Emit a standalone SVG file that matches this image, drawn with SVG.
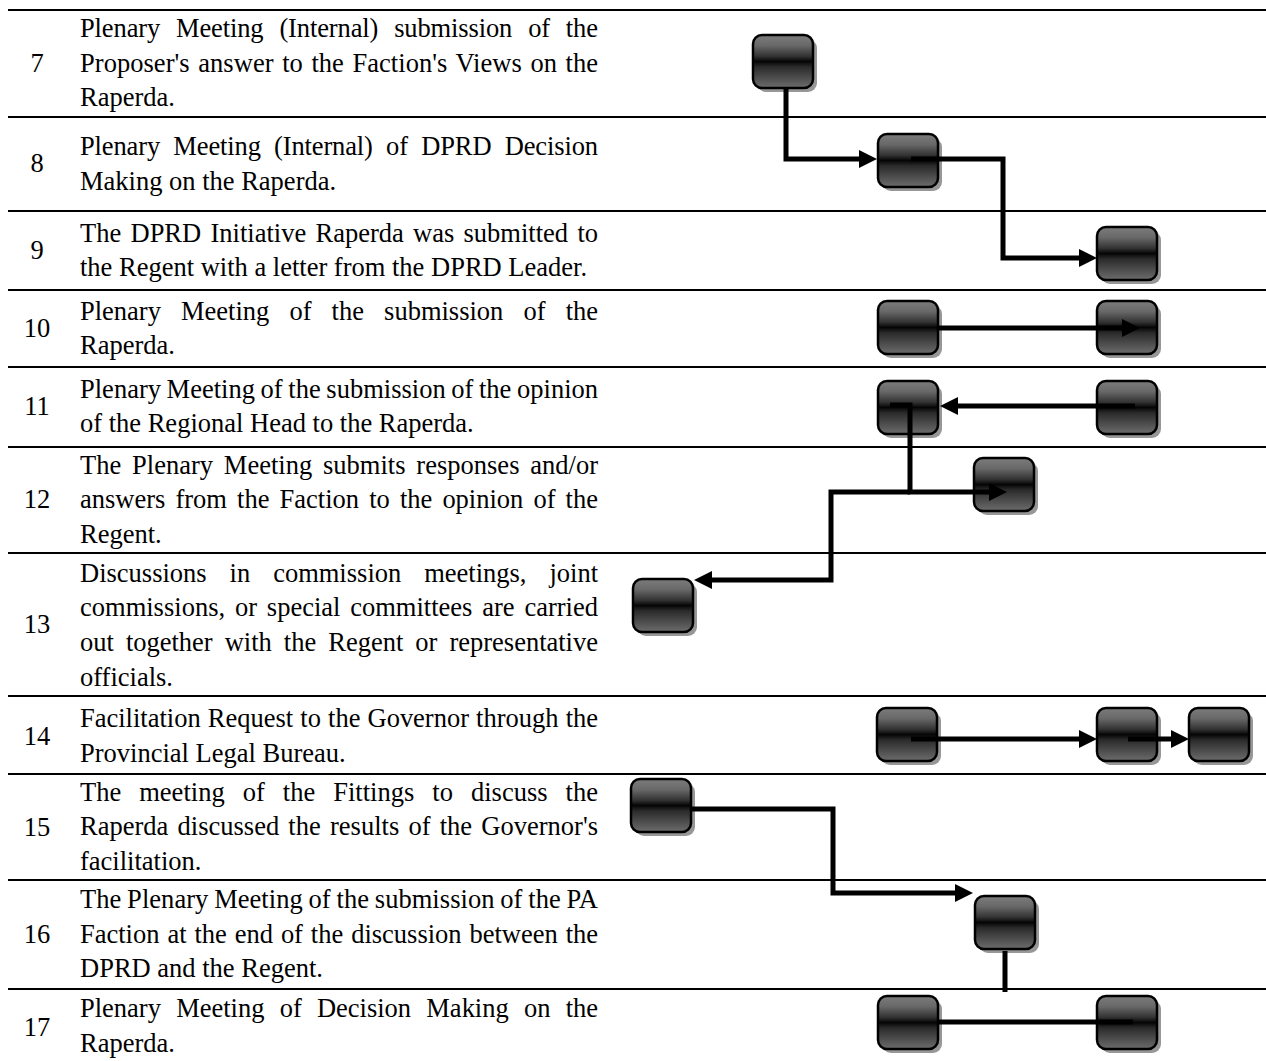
<svg xmlns="http://www.w3.org/2000/svg" width="1266" height="1061" viewBox="0 0 1266 1061">
<defs>
<style>
.t{font-family:"Liberation Serif","Times New Roman",serif;font-size:26.5px;fill:#000}
.n{font-family:"Liberation Serif","Times New Roman",serif;font-size:26.5px;fill:#000;text-anchor:middle}
.rule{stroke:#000;stroke-width:2;fill:none}
.sh{fill:#858585;opacity:.85}
.bx{fill:url(#g);stroke:#000;stroke-width:2.5}
.c{fill:none;stroke:#000;stroke-width:5;stroke-linejoin:miter}
.a{marker-end:url(#ah)}
</style>
<linearGradient id="g" x1="0" y1="0" x2="0" y2="1">
<stop offset="0" stop-color="#7c7c7c"/>
<stop offset="0.2" stop-color="#686868"/>
<stop offset="0.4" stop-color="#333333"/>
<stop offset="0.5" stop-color="#050505"/>
<stop offset="0.6" stop-color="#2a2a2a"/>
<stop offset="0.8" stop-color="#4c4c4c"/>
<stop offset="1" stop-color="#6c6c6c"/>
</linearGradient>
<marker id="ah" markerUnits="userSpaceOnUse" markerWidth="18" markerHeight="18" viewBox="0 0 18 18" refX="6" refY="9" orient="auto">
<path d="M0,0 L18,9 L0,18 Z" fill="#000"/>
</marker>
</defs>
<rect width="1266" height="1061" fill="#fff"/>

<g id="rules">
<line class="rule" x1="8" y1="10" x2="1266" y2="10"/>
<line class="rule" x1="8" y1="117" x2="1266" y2="117"/>
<line class="rule" x1="8" y1="211" x2="1266" y2="211"/>
<line class="rule" x1="8" y1="290" x2="1266" y2="290"/>
<line class="rule" x1="8" y1="367" x2="1266" y2="367"/>
<line class="rule" x1="8" y1="447" x2="1266" y2="447"/>
<line class="rule" x1="8" y1="553" x2="1266" y2="553"/>
<line class="rule" x1="8" y1="696" x2="1266" y2="696"/>
<line class="rule" x1="8" y1="774" x2="1266" y2="774"/>
<line class="rule" x1="8" y1="880" x2="1266" y2="880"/>
<line class="rule" x1="8" y1="989" x2="1266" y2="989"/>
</g>

<g id="table-text">
<text class="n" x="37" y="72">7</text>
<text class="t" x="80" y="36.5" textLength="518" lengthAdjust="spacing" style="word-spacing:9.4px">Plenary Meeting (Internal) submission of the</text>
<text class="t" x="80" y="71.5" textLength="518" lengthAdjust="spacing" style="word-spacing:1.9px">Proposer's answer to the Faction's Views on the</text>
<text class="t" x="80" y="106">Raperda.</text>

<text class="n" x="37" y="172">8</text>
<text class="t" x="80" y="155" textLength="518" lengthAdjust="spacing" style="word-spacing:6.8px">Plenary Meeting (Internal) of DPRD Decision</text>
<text class="t" x="80" y="189.5">Making on the Raperda.</text>

<text class="n" x="37" y="259">9</text>
<text class="t" x="80" y="241.5" textLength="518" lengthAdjust="spacing" style="word-spacing:2.7px">The DPRD Initiative Raperda was submitted to</text>
<text class="t" x="80" y="276">the Regent with a letter from the DPRD Leader.</text>

<text class="n" x="37" y="336.5">10</text>
<text class="t" x="80" y="319.5" textLength="518" lengthAdjust="spacing" style="word-spacing:13.5px">Plenary Meeting of the submission of the</text>
<text class="t" x="80" y="354">Raperda.</text>

<text class="n" x="37" y="414.5">11</text>
<text class="t" x="80" y="397.5" textLength="518" lengthAdjust="spacing" style="word-spacing:-1px">Plenary Meeting of the submission of the opinion</text>
<text class="t" x="80" y="432">of the Regional Head to the Raperda.</text>

<text class="n" x="37" y="508">12</text>
<text class="t" x="80" y="473.5" textLength="518" lengthAdjust="spacing" style="word-spacing:4.2px">The Plenary Meeting submits responses and/or</text>
<text class="t" x="80" y="508" textLength="518" lengthAdjust="spacing" style="word-spacing:3.5px">answers from the Faction to the opinion of the</text>
<text class="t" x="80" y="543">Regent.</text>

<text class="n" x="37" y="633">13</text>
<text class="t" x="80" y="581.5" textLength="518" lengthAdjust="spacing" style="word-spacing:16.3px">Discussions in commission meetings, joint</text>
<text class="t" x="80" y="616.3" textLength="518" lengthAdjust="spacing" style="word-spacing:3.2px">commissions, or special committees are carried</text>
<text class="t" x="80" y="651.1" textLength="518" lengthAdjust="spacing" style="word-spacing:5.4px">out together with the Regent or representative</text>
<text class="t" x="80" y="685.9">officials.</text>

<text class="n" x="37" y="744.5">14</text>
<text class="t" x="80" y="727" textLength="518" lengthAdjust="spacing" style="word-spacing:0.5px">Facilitation Request to the Governor through the</text>
<text class="t" x="80" y="761.8">Provincial Legal Bureau.</text>

<text class="n" x="37" y="835.5">15</text>
<text class="t" x="80" y="800.5" textLength="518" lengthAdjust="spacing" style="word-spacing:11.4px">The meeting of the Fittings to discuss the</text>
<text class="t" x="80" y="835.3" textLength="518" lengthAdjust="spacing" style="word-spacing:2.6px">Raperda discussed the results of the Governor's</text>
<text class="t" x="80" y="870.1">facilitation.</text>

<text class="n" x="37" y="943">16</text>
<text class="t" x="80" y="907.7" textLength="518" lengthAdjust="spacing" style="word-spacing:-0.9px">The Plenary Meeting of the submission of the PA</text>
<text class="t" x="80" y="942.5" textLength="518" lengthAdjust="spacing" style="word-spacing:1.3px">Faction at the end of the discussion between the</text>
<text class="t" x="80" y="977.3">DPRD and the Regent.</text>

<text class="n" x="37" y="1036">17</text>
<text class="t" x="80" y="1017" textLength="518" lengthAdjust="spacing" style="word-spacing:8.6px">Plenary Meeting of Decision Making on the</text>
<text class="t" x="80" y="1051.8">Raperda.</text>
</g>

<g id="n7"><rect class="sh" x="757" y="39" width="60" height="53" rx="9"/><rect class="bx" x="753" y="35" width="60" height="53" rx="9"/></g>
<g id="n8"><rect class="sh" x="882" y="138" width="60" height="53" rx="9"/><rect class="bx" x="878" y="134" width="60" height="53" rx="9"/></g>
<g id="n9"><rect class="sh" x="1101" y="231" width="60" height="53" rx="9"/><rect class="bx" x="1097" y="227" width="60" height="53" rx="9"/></g>
<g id="n10a"><rect class="sh" x="882" y="305" width="60" height="53" rx="9"/><rect class="bx" x="878" y="301" width="60" height="53" rx="9"/></g>
<g id="n10b"><rect class="sh" x="1101" y="305" width="60" height="53" rx="9"/><rect class="bx" x="1097" y="301" width="60" height="53" rx="9"/></g>
<g id="n11a"><rect class="sh" x="882" y="385" width="60" height="53" rx="9"/><rect class="bx" x="878" y="381" width="60" height="53" rx="9"/></g>
<g id="n11b"><rect class="sh" x="1101" y="385" width="60" height="53" rx="9"/><rect class="bx" x="1097" y="381" width="60" height="53" rx="9"/></g>
<g id="n12"><rect class="sh" x="978" y="462" width="60" height="53" rx="9"/><rect class="bx" x="974" y="458" width="60" height="53" rx="9"/></g>
<g id="n13"><rect class="sh" x="637" y="583" width="60" height="53" rx="9"/><rect class="bx" x="633" y="579" width="60" height="53" rx="9"/></g>
<g id="n14a"><rect class="sh" x="881" y="712" width="60" height="53" rx="9"/><rect class="bx" x="877" y="708" width="60" height="53" rx="9"/></g>
<g id="n14b"><rect class="sh" x="1101" y="712" width="60" height="53" rx="9"/><rect class="bx" x="1097" y="708" width="60" height="53" rx="9"/></g>
<g id="n14c"><rect class="sh" x="1193" y="712" width="60" height="53" rx="9"/><rect class="bx" x="1189" y="708" width="60" height="53" rx="9"/></g>
<g id="n15"><rect class="sh" x="635" y="783" width="60" height="53" rx="9"/><rect class="bx" x="631" y="779" width="60" height="53" rx="9"/></g>
<g id="n16"><rect class="sh" x="979" y="900" width="60" height="53" rx="9"/><rect class="bx" x="975" y="896" width="60" height="53" rx="9"/></g>
<g id="n17a"><rect class="sh" x="882" y="1000" width="60" height="53" rx="9"/><rect class="bx" x="878" y="996" width="60" height="53" rx="9"/></g>
<g id="n17b"><rect class="sh" x="1101" y="1000" width="60" height="53" rx="9"/><rect class="bx" x="1097" y="996" width="60" height="53" rx="9"/></g>

<g id="connectors">
<path class="c a" d="M786 88 V159 H865"/>
<path class="c a" d="M911 159 H1003 V258 H1085"/>
<path class="c a" d="M939 328 H1128"/>
<path class="c a" d="M1135 406 H952"/>
<path class="c a" d="M890 405 H910 V492 H995"/>
<path class="c a" d="M910 492 H831 V580 H706"/>
<path class="c a" d="M911 739 H1085"/>
<path class="c a" d="M1128 739 H1177"/>
<path class="c a" d="M692 809 H833 V893 H961"/>
<path class="c" d="M1005 951 V992"/>
<path class="c" d="M939 1022 H1133"/>
</g>
</svg>
